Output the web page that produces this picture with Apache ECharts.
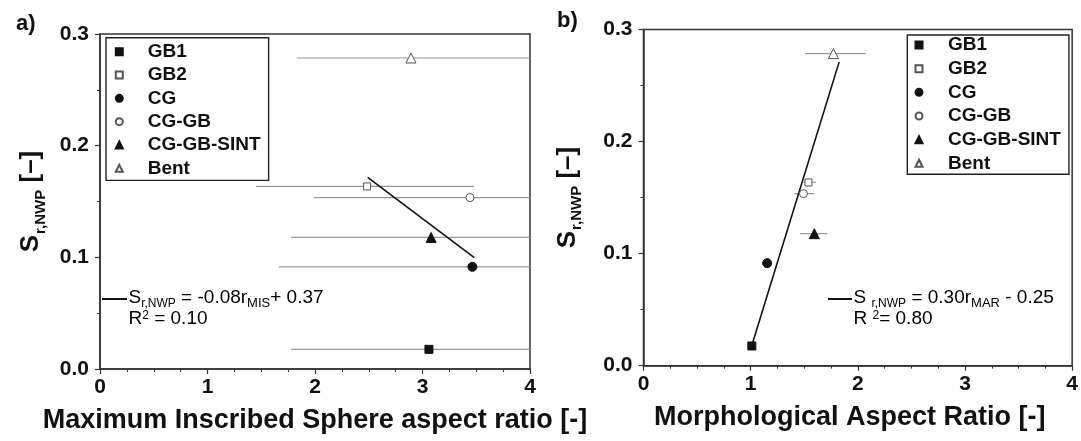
<!DOCTYPE html>
<html>
<head>
<meta charset="utf-8">
<script src="https://cdn.jsdelivr.net/npm/echarts@6/dist/echarts.min.js"></script>
<style>
html,body{margin:0;padding:0;background:#fff;}
#chart{width:1081px;height:441px;}
</style>
</head>
<body>
<div id="chart"></div>
<script>
// ---------- data ----------
const sampleNames = ['GB1', 'GB2', 'CG', 'CG-GB', 'CG-GB-SINT', 'Bent'];
const srNWP = [0.0176, 0.1635, 0.0915, 0.1535, 0.1178, 0.2785];

// panel a: maximum inscribed sphere aspect ratio
const misMean = [3.06, 2.485, 3.464, 3.442, 3.08, 2.893];
const misLow  = [1.777, 1.451, 1.662, 1.99, 1.777, 1.83];
const misHigh = [4.4, 3.479, 4.4, 4.4, 4.4, 4.4];
const misFitX = [2.49, 3.482];
const misFitY = [0.1717, 0.0997];

// panel b: morphological aspect ratio
const marMean = [1.011, 1.539, 1.154, 1.493, 1.594, 1.772];
const marLow  = [0.99, 1.493, 1.114, 1.409, 1.462, 1.508];
const marHigh = [1.03, 1.611, 1.198, 1.593, 1.716, 2.075];
const marFitX = [1.017, 1.826];
const marFitY = [0.02, 0.2711];

const xTicks = [0, 1, 2, 3, 4];
const yTicks = [0.0, 0.1, 0.2, 0.3];

// ---------- styles ----------
const FONT = "'Liberation Sans', Arial, Helvetica, sans-serif";
const symbolStyles = {
  'GB1':        {symbol: 'rect',     size: 8,  fill: '#111', stroke: '#111'},
  'GB2':        {symbol: 'rect',     size: 7,  fill: '#fff', stroke: '#555'},
  'CG':         {symbol: 'circle',   size: 9,  fill: '#111', stroke: '#111'},
  'CG-GB':      {symbol: 'circle',   size: 8,  fill: '#fff', stroke: '#555'},
  'CG-GB-SINT': {symbol: 'triangle', size: 10, fill: '#111', stroke: '#111'},
  'Bent':       {symbol: 'triangle', size: 10, fill: '#fff', stroke: '#555'}
};

const chart = echarts.init(document.getElementById('chart'), null, {renderer: 'canvas'});

function xAxisDef(gridIndex, name, namePad) {
  return {
    type: 'value', gridIndex: gridIndex, min: xTicks[0], max: xTicks[xTicks.length - 1], interval: 1,
    name: name, nameLocation: 'middle', nameGap: 37,
    nameTextStyle: {fontFamily: FONT, fontSize: 27, fontWeight: 'bold', color: '#111', lineHeight: 30, padding: namePad},
    axisLine: {show: true, onZero: false, lineStyle: {color: '#333', width: 1.5}},
    axisTick: {show: true, inside: false, length: 5, lineStyle: {color: '#333', width: 1.2}},
    minorTick: {show: true, splitNumber: 4, length: 3, lineStyle: {color: '#333', width: 1}},
    axisLabel: {fontFamily: FONT, fontSize: 21, fontWeight: 'bold', color: '#111', margin: 8, lineHeight: 21},
    splitLine: {show: false}
  };
}
function yAxisDef(gridIndex, nameGap) {
  return {
    type: 'value', gridIndex: gridIndex, min: yTicks[0], max: yTicks[yTicks.length - 1], interval: 0.1,
    name: '{s|S}{sub|r,NWP}{s| [–]}', nameLocation: 'middle', nameGap: nameGap,
    nameTextStyle: {
      fontFamily: FONT, color: '#111',
      rich: {
        s: {fontFamily: FONT, fontSize: 26, fontWeight: 'bold', color: '#111', lineHeight: 28, verticalAlign: 'top'},
        sub: {fontFamily: FONT, fontSize: 15, fontWeight: 'bold', color: '#111', lineHeight: 15, padding: [15, 0, 0, 1], verticalAlign: 'top'}
      }
    },
    axisLine: {show: true, onZero: false, lineStyle: {color: '#333', width: 1.5}},
    axisTick: {show: true, inside: false, length: 5, lineStyle: {color: '#333', width: 1.2}},
    minorTick: {show: true, splitNumber: 2, length: 3, lineStyle: {color: '#333', width: 1}},
    axisLabel: {fontFamily: FONT, fontSize: 21, fontWeight: 'bold', color: '#111', margin: 11,
      formatter: function (v) { return v.toFixed(1); }},
    splitLine: {show: false}
  };
}

function errorBarSeries(idx, lows, highs, color) {
  return {
    type: 'custom', xAxisIndex: idx, yAxisIndex: idx, clip: true, silent: true, z: 1,
    data: sampleNames.map(function (n, i) { return [lows[i], highs[i], srNWP[i]]; }),
    encode: {x: [0, 1], y: 2},
    renderItem: function (params, api) {
      const y = api.value(2);
      const p1 = api.coord([api.value(0), y]);
      const p2 = api.coord([api.value(1), y]);
      return {type: 'line', shape: {x1: p1[0], y1: p1[1], x2: p2[0], y2: p2[1]},
              style: {stroke: color, lineWidth: 1.2}};
    }
  };
}

function pointSeries(idx, xs) {
  return sampleNames.map(function (n, i) {
    const st = symbolStyles[n];
    return {
      name: n, type: 'scatter', xAxisIndex: idx, yAxisIndex: idx, z: 5,
      symbol: st.symbol, symbolSize: st.size, symbolKeepAspect: true,
      itemStyle: {color: st.fill, borderColor: st.stroke, borderWidth: 1, opacity: 1},
      data: [[xs[i], srNWP[i]]]
    };
  });
}

function fitSeries(idx, fx, fy) {
  return {
    type: 'line', xAxisIndex: idx, yAxisIndex: idx, symbol: 'none', silent: true, z: 3,
    lineStyle: {color: '#111', width: 1.6},
    data: fx.map(function (x, i) { return [x, fy[i]]; })
  };
}

function legendDef(left, top, padding, gap, textPad) {
  return {
    data: sampleNames, orient: 'vertical', left: left, top: top, padding: padding,
    itemGap: gap, itemWidth: 7, itemHeight: 7, selectedMode: false,
    borderColor: '#222', borderWidth: 1.4, backgroundColor: '#fff',
    textStyle: {fontFamily: FONT, fontSize: 19, fontWeight: 'bold', color: '#111', lineHeight: 20,
      padding: [0, 0, 0, textPad]}
  };
}

const eqRich = {
  n:   {fontFamily: FONT, fontSize: 19, color: '#222', lineHeight: 22, verticalAlign: 'top'},
  sub: {fontFamily: FONT, fontSize: 12, color: '#222', lineHeight: 12, padding: [10, 0, 0, 0], verticalAlign: 'top'},
  sub2:{fontFamily: FONT, fontSize: 13, color: '#222', lineHeight: 13, padding: [9, 0, 0, 0], verticalAlign: 'top'},
  sup: {fontFamily: FONT, fontSize: 12, color: '#222', lineHeight: 12, padding: [1, 0, 0, 0], verticalAlign: 'top'}
};

function equation(xLine, xText, line1, line2) {
  return [
    {type: 'line', shape: {x1: xLine[0], y1: 299, x2: xLine[1], y2: 299}, style: {stroke: '#111', lineWidth: 2}},
    {type: 'text', x: xText, y: 288, style: {text: line1, rich: eqRich, verticalAlign: 'top', align: 'left'}},
    {type: 'text', x: xText, y: 309, style: {text: line2, rich: eqRich, verticalAlign: 'top', align: 'left'}}
  ];
}

const option = {
  backgroundColor: '#fff',
  animation: false,
  grid: [
    {left: 100, top: 34, width: 430, height: 336, show: true, borderColor: '#333', borderWidth: 1.5, backgroundColor: 'transparent'},
    {left: 643.5, top: 29.5, width: 429, height: 336.2, show: true, borderColor: '#333', borderWidth: 1.5, backgroundColor: 'transparent'}
  ],
  xAxis: [
    xAxisDef(0, 'Maximum Inscribed Sphere aspect ratio [-]', [0, 0, 0, 0]),
    xAxisDef(1, 'Morphological Aspect Ratio [-]', [0, 16, 0, 0])
  ],
  yAxis: [yAxisDef(0, 54), yAxisDef(1, 61)],
  legend: [
    legendDef(106, 37.7, [4, 8, 2, 8.8], 3.33, 19.9),
    legendDef(907.3, 35, [0, 8, 1, 7.2], 3.66, 20.5)
  ],
  series: [].concat(
    [errorBarSeries(0, misLow, misHigh, '#999'), errorBarSeries(1, marLow, marHigh, '#999')],
    [fitSeries(0, misFitX, misFitY), fitSeries(1, marFitX, marFitY)],
    pointSeries(0, misMean),
    pointSeries(1, marMean)
  ),
  graphic: [].concat(
    [
      {type: 'text', x: 16, y: 13, style: {text: 'a)', fontFamily: FONT, fontSize: 22, fontWeight: 'bold', fill: '#111', verticalAlign: 'top'}},
      {type: 'text', x: 557, y: 10, style: {text: 'b)', fontFamily: FONT, fontSize: 22, fontWeight: 'bold', fill: '#111', verticalAlign: 'top'}}
    ],
    equation([102, 127], 128.5, '{n|S}{sub|r,NWP}{n| = -0.08r}{sub2|MIS}{n|+ 0.37}', '{n|R}{sup|2}{n| = 0.10}'),
    equation([828, 852], 853.5, '{n|S }{sub|r,NWP}{n| = 0.30r}{sub2|MAR}{n| - 0.25}', '{n|R }{sup|2}{n|= 0.80}')
  )
};
chart.setOption(option);
</script>
</body>
</html>
